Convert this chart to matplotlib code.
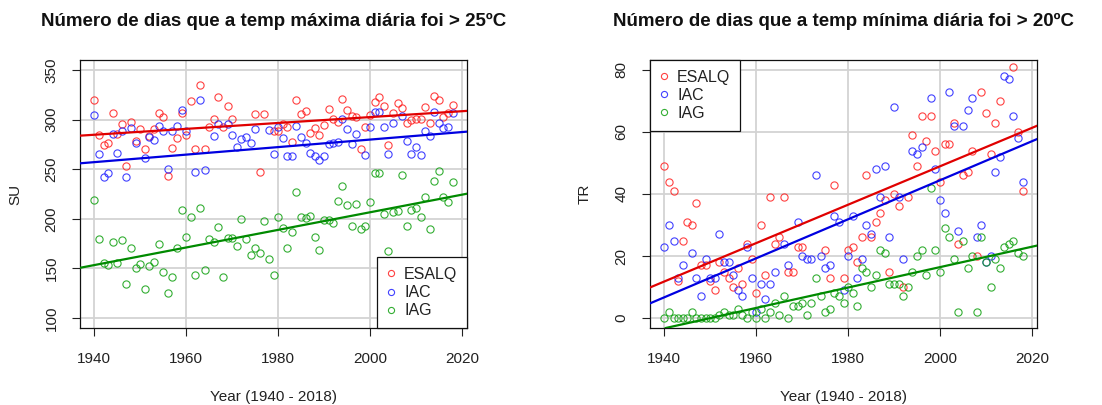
import numpy as np
import matplotlib
matplotlib.use("Agg")
import matplotlib.pyplot as plt

plt.rcParams['font.family'] = ['Liberation Sans', 'DejaVu Sans']

nan = np.nan
years = np.arange(1940, 2019)
stations = ['ESALQ', 'IAC', 'IAG']

# SU: days with Tmax > 25C
su_esalq = [320, 284, 274, 276, 307, 285, 296, 253, 298, 278,
            290, 270, 283, 290, 307, 303, 243, 271, 281, 307,
            284, 319, 270, 335, 270, 293, 301, 323, 292, 314,
            301, nan, nan, nan, nan, 306, 247, 306, nan, 288,
            288, 296, 293, 277, 320, 306, 309, 286, 291, 284,
            295, 311, 301, 298, 321, 310, 304, 303, 270, 293,
            305, 318, 323, 314, 274, 307, 317, 312, 297, 300,
            301, 301, 313, 297, 324, 320, 303, 307, 315]
su_iac = [305, 265, 242, 246, 285, 266, 288, 242, 291, 276,
          nan, 261, 282, 279, 294, 288, 250, 288, 294, 310,
          288, nan, 247, 320, 249, nan, 283, 296, nan, 296,
          284, 272, 280, 282, 276, 290, nan, nan, 289, 265,
          293, 281, 263, 263, 294, 282, 276, 266, 263, 259,
          263, 275, 276, 277, 301, 290, 275, 285, nan, 264,
          293, 308, 308, 293, 265, 297, nan, 304, 278, 265,
          272, 264, 288, 283, 308, 297, 291, 292, 307]
su_iag = [219, 180, 155, 153, 177, 155, 179, 134, 171, 150,
          154, 129, 152, 156, 175, 146, 125, 141, 171, 209,
          182, 202, 143, 211, 148, 180, 177, 192, 141, 181,
          181, 173, 200, 180, 164, 171, 166, 198, 160, 143,
          202, 191, 171, 187, 227, 202, 201, 203, 182, 169,
          199, 199, 196, 218, 233, 214, 193, 215, 190, 193,
          217, 246, 246, 205, 168, 207, 208, 244, 193, 209,
          211, 202, 222, 190, 238, 248, 222, 217, 237]

# TR: days with Tmin > 20C
tr_esalq = [49, 44, 41, 12, 25, 31, 30, 37, 17, 17,
            12, 9, 18, 15, 13, 10, 16, 11, 24, 19,
            8, 30, 14, 39, 24, 26, 39, 15, 15, 23,
            23, nan, nan, nan, nan, 22, 13, 43, nan, 13,
            22, 23, 18, 26, 46, 26, 31, 34, 38, 15,
            40, 36, 10, 39, 59, 49, 65, 57, 65, 54,
            44, 56, 56, 63, 24, 46, 47, 54, 20, 73,
            66, 53, 63, 70, nan, nan, 81, 60, 41]
tr_iac = [23, 30, 25, 13, 17, nan, 21, 13, 7, 19,
          13, 13, 27, 18, 18, 14, 9, 7, 23, 13,
          2, 11, 6, 11, 15, nan, 24, 17, nan, 31,
          20, 19, 19, 46, 20, 16, 17, 33, 31, 9,
          20, 33, 13, 19, 30, 27, 48, 39, 49, 26,
          68, 39, 19, nan, 54, 53, 55, nan, 71, 48,
          38, 34, 73, 62, 28, 62, 67, 71, 26, 30,
          18, 20, 47, 52, 78, 77, 65, 58, 44]
tr_iag = [0, 2, 0, 0, 0, 0, 2, 0, 0, 0,
          0, 0, 1, 2, 1, 1, 3, 1, 0, 2,
          0, 3, 0, 2, 5, 1, 7, 0, 4, 4,
          5, 1, 5, 13, 7, 2, 3, 8, 7, 5,
          10, 8, 4, 16, 15, 10, 14, 22, 21, 11,
          11, 11, 7, 10, 15, 20, 22, 14, 42, 22,
          15, 29, 26, 19, 2, 25, 16, 20, 2, 26,
          18, 10, 19, 16, 23, 24, 25, 21, 20]

# trend lines: value at 1940 and at 2020
su_trend_1940 = [284.7, 257.1, 153.4]
su_trend_2020 = [308.4, 287.4, 224.3]
tr_trend_1940 = [11.8, 6.7, -3.3]
tr_trend_2020 = [61.3, 57.0, 23.0]

xticks = [1940, 1960, 1980, 2000, 2020]
su_yticks = [100, 150, 200, 250, 300, 350]
tr_yticks = [0, 20, 40, 60, 80]

point_colors = ['#ff2020', '#2020ff', '#10a010']
line_colors = ['#e00000', '#0000e0', '#008a00']


def draw_panel(ax, series, t0, t1, title, ylabel, ylim, yticks, legend_loc):
    ax.set_xlim(1936.88, 2021.12)
    ax.set_ylim(*ylim)
    for v in xticks:
        ax.axvline(v, color='#d3d3d3', lw=1.3, zorder=0)
    for v in yticks:
        ax.axhline(v, color='#d3d3d3', lw=1.3, zorder=0)

    handles = []
    for name, vals, pc, lc, a, b in zip(stations, series, point_colors,
                                        line_colors, t0, t1):
        vals = np.asarray(vals, dtype=float)
        h, = ax.plot(years, vals, 'o', mfc='none', mec=pc, ms=5.2, mew=0.8,
                     alpha=0.85, label=name, zorder=2)
        handles.append(h)
        ax.axline((1940, a), (2020, b), color=lc, lw=1.6, zorder=3)

    ax.set_xticks(xticks)
    ax.set_yticks(yticks)
    ax.tick_params(direction='out', length=5.5, width=0.8, labelsize=11,
                   colors='#222222')
    ax.tick_params(axis='x', pad=12)
    ax.tick_params(axis='y', pad=10)
    for lab in ax.get_yticklabels():
        lab.set_rotation(90)
        lab.set_va('center')
    for sp in ax.spines.values():
        sp.set_linewidth(0.9)
        sp.set_color('#111111')

    ax.text(0.5, 1.1455, title, transform=ax.transAxes, ha='center',
            va='center', fontsize=13.5, fontweight='bold', color='#111111')
    ax.text(0.5, -0.257, 'Year (1940 - 2018)', transform=ax.transAxes,
            ha='center', va='center', fontsize=11, color='#222222')
    ax.text(-0.168, 0.5, ylabel, transform=ax.transAxes, ha='center',
            va='center', rotation=90, fontsize=11, color='#222222')

    leg = ax.legend(handles=handles, loc=legend_loc, borderaxespad=0,
                    fancybox=False, framealpha=1, edgecolor='#111111',
                    fontsize=11.5, handlelength=0.5, handletextpad=0.6,
                    borderpad=0.6, labelspacing=0.2, markerscale=0.85)
    leg.get_frame().set_linewidth(0.9)
    for t in leg.get_texts():
        t.set_color('#222222')


fig = plt.figure(figsize=(11.02, 4.05), dpi=100)
ax1 = fig.add_axes([80 / 1102, 77 / 405, 387 / 1102, 268 / 405])
ax2 = fig.add_axes([650 / 1102, 77 / 405, 387 / 1102, 268 / 405])

draw_panel(ax1, [su_esalq, su_iac, su_iag], su_trend_1940, su_trend_2020,
           'Número de dias que a temp máxima diária foi > 25ºC',
           'SU', (90, 360), su_yticks, 'lower right')
draw_panel(ax2, [tr_esalq, tr_iac, tr_iag], tr_trend_1940, tr_trend_2020,
           'Número de dias que a temp mínima diária foi > 20ºC',
           'TR', (-3.2, 83.2), tr_yticks, 'upper left')

fig.savefig('out.png', dpi=100)
